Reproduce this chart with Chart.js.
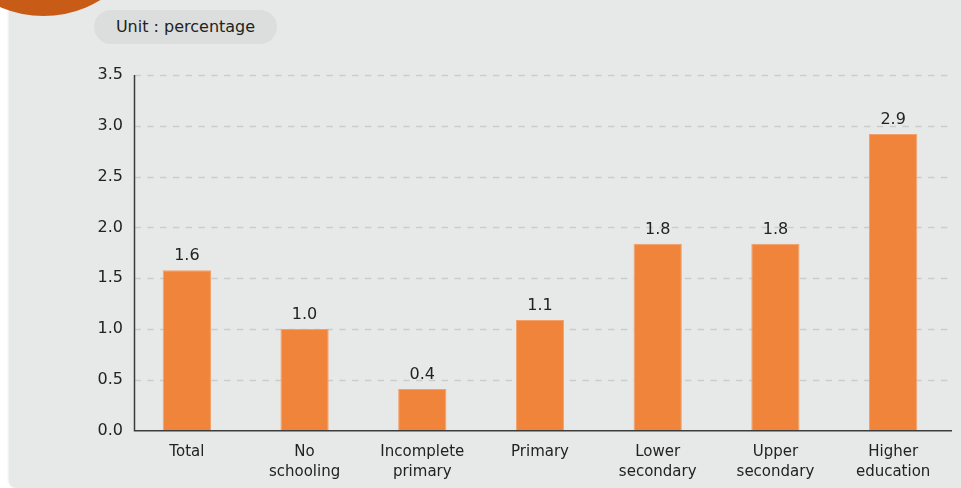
<!DOCTYPE html>
<html lang="en">
<head>
<meta charset="UTF-8">
<title>Unit : percentage</title>
<script src="https://cdn.jsdelivr.net/npm/chart.js@4.4.0/dist/chart.umd.min.js"></script>
<style>
  html, body { margin: 0; padding: 0; background: #ffffff; overflow: hidden; }
  #wrap { position: relative; width: 961px; height: 488px; overflow: hidden; }
  #panel {
    position: absolute; left: 9px; top: -20px; width: 1000px; height: 508px;
    background: #e6e9e8; border-radius: 8px;
    box-shadow: -1px 0 2px rgba(0,0,0,0.08);
  }
  #badge {
    position: absolute; left: -66px; top: -203px; width: 219px; height: 219px;
    border-radius: 50%; background: #c85c16;
  }
  #unit {
    position: absolute; left: 94px; top: 10px; width: 183px; height: 34px;
    border-radius: 17px; background: #dcdedd; color: #222;
    font: 16px "DejaVu Sans", sans-serif; line-height: 34px; text-align: center;
  }
  #box { position: absolute; left: 0; top: 0; width: 961px; height: 488px; }
</style>
</head>
<body>
<div id="wrap">
  <div id="panel"></div>
  <div id="badge"></div>
  <div id="unit">Unit : percentage</div>
  <div id="box"><canvas id="chart"></canvas></div>
</div>
<script>
// categories and values (percent)
const categories = [
  'Total',
  ['No', 'schooling'],
  ['Incomplete', 'primary'],
  'Primary',
  ['Lower', 'secondary'],
  ['Upper', 'secondary'],
  ['Higher', 'education']
];
const values = [1.58, 1.0, 0.41, 1.09, 1.84, 1.84, 2.92];
const yTicks = [0, 0.5, 1.0, 1.5, 2.0, 2.5, 3.0, 3.5];

const barColor = '#f0843a';
const textColor = '#222222';

// grid + axis lines, drawn a few px inside the category area like the original
const axesPlugin = {
  id: 'axes',
  beforeDatasetsDraw(chart) {
    const { ctx, chartArea: a, scales: { y } } = chart;
    const x0 = a.left + 6.5;
    ctx.save();
    ctx.strokeStyle = '#cbcdcc';
    ctx.lineWidth = 1.6;
    ctx.setLineDash([6.4, 6.4]);
    yTicks.forEach(v => {
      if (v === 0) return;
      const py = Math.round(y.getPixelForValue(v)) + 0.5;
      ctx.beginPath();
      ctx.moveTo(x0, py);
      ctx.lineTo(a.right, py);
      ctx.stroke();
    });
    ctx.restore();
  },
  afterDatasetsDraw(chart) {
    const { ctx, chartArea: a, scales: { y } } = chart;
    const x0 = a.left + 6.5;
    const yb = y.getPixelForValue(0);
    ctx.save();
    ctx.strokeStyle = '#3c3c3c';
    ctx.lineWidth = 1.5;
    ctx.beginPath();
    ctx.moveTo(x0, a.top);
    ctx.lineTo(x0, yb);
    ctx.lineTo(a.right, yb);
    ctx.stroke();

    // value labels above bars
    ctx.fillStyle = textColor;
    ctx.font = '16px "DejaVu Sans"';
    ctx.textAlign = 'center';
    ctx.textBaseline = 'bottom';
    chart.getDatasetMeta(0).data.forEach((bar, i) => {
      ctx.fillText(values[i].toFixed(1), bar.x, bar.y - 6);
    });
    ctx.restore();
  }
};

Chart.defaults.font.family = '"DejaVu Sans", sans-serif';
Chart.defaults.color = textColor;

new Chart(document.getElementById('chart'), {
  type: 'bar',
  data: {
    labels: categories,
    datasets: [{
      data: values,
      backgroundColor: barColor,
      borderColor: '#f3a06a',
      borderWidth: { left: 1, right: 1, top: 1, bottom: 0 },
      borderSkipped: 'bottom',
      barPercentage: 0.41,
      categoryPercentage: 1.0
    }]
  },
  options: {
    responsive: true,
    maintainAspectRatio: false,
    animation: false,
    events: [],
    layout: { padding: { top: 75, right: 9, bottom: 0, left: 0 } },
    plugins: {
      legend: { display: false },
      tooltip: { enabled: false }
    },
    scales: {
      x: {
        grid: { display: false, drawTicks: false },
        border: { display: false },
        ticks: {
          font: { size: 15, lineHeight: 1.3 },
          color: textColor,
          padding: 12,
          maxRotation: 0,
          autoSkip: false
        },
        afterFit(scale) { scale.height = 57.3; }
      },
      y: {
        min: 0,
        max: 3.5,
        grid: { display: false, drawTicks: false },
        border: { display: false },
        afterBuildTicks(scale) { scale.ticks = yTicks.map(v => ({ value: v })); },
        ticks: {
          font: { size: 16 },
          color: textColor,
          padding: 5,
          callback: v => v.toFixed(1)
        },
        afterFit(scale) { scale.width = 128; }
      }
    }
  },
  plugins: [axesPlugin]
});
</script>
</body>
</html>
